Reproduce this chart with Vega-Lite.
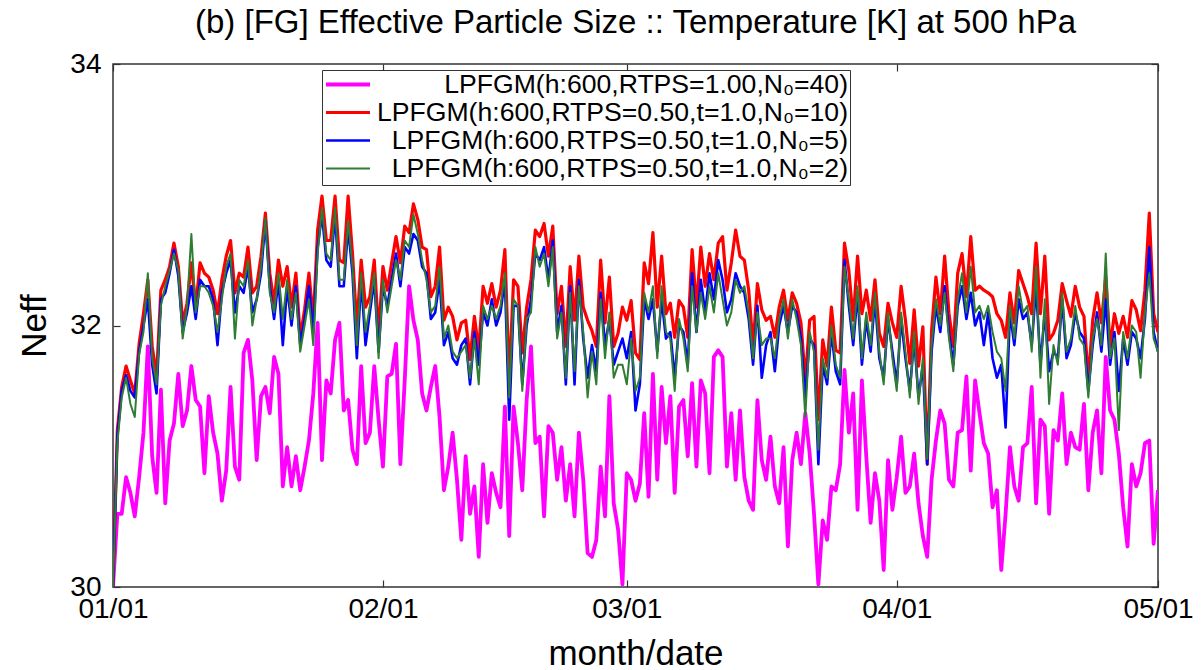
{
"$schema": "https://vega.github.io/schema/vega-lite/v6.json",
"width": 1045, "height": 523,
"autosize": {"type": "none"},
"padding": {"left": 113, "top": 64, "right": 43, "bottom": 83},
"background": "white",
"title": {"text": "(b) [FG] Effective Particle Size :: Temperature [K] at 500 hPa", "font": "Liberation Sans", "fontSize": 33, "fontWeight": "normal", "anchor": "middle", "offset": 10, "color": "#000"},
"config": {"view": {"stroke": "#333", "strokeWidth": 1.5}, "font": "Liberation Sans"},
"data": {"values": [
{"d":0,"m":30.0,"r":30.0,"b":30.0,"g":30.0},
{"d":0.5,"m":30.56,"r":31.2,"b":31.15,"g":31.1},
{"d":1,"m":30.56,"r":31.53,"b":31.5,"g":31.45},
{"d":1.5,"m":30.84,"r":31.69,"b":31.62,"g":31.6},
{"d":2,"m":30.72,"r":31.58,"b":31.5,"g":31.4},
{"d":2.5,"m":30.54,"r":31.48,"b":31.45,"g":31.3},
{"d":3,"m":30.84,"r":31.86,"b":31.8,"g":31.78},
{"d":3.5,"m":31.18,"r":32.09,"b":32.0,"g":31.95},
{"d":4,"m":31.84,"r":32.35,"b":32.2,"g":32.4},
{"d":4.5,"m":31.0,"r":31.84,"b":31.7,"g":31.75},
{"d":5,"m":30.72,"r":31.61,"b":31.48,"g":31.55},
{"d":5.5,"m":31.51,"r":32.27,"b":32.2,"g":32.15},
{"d":6,"m":30.64,"r":32.35,"b":32.25,"g":32.3},
{"d":6.5,"m":31.12,"r":32.45,"b":32.4,"g":32.42},
{"d":7,"m":31.25,"r":32.63,"b":32.58,"g":32.55},
{"d":7.5,"m":31.63,"r":32.45,"b":32.38,"g":32.42},
{"d":8,"m":31.23,"r":32.02,"b":31.95,"g":31.9},
{"d":8.5,"m":31.35,"r":32.17,"b":32.1,"g":32.15},
{"d":9,"m":31.69,"r":32.48,"b":32.3,"g":32.7},
{"d":9.5,"m":31.43,"r":32.14,"b":32.05,"g":32.1},
{"d":10,"m":31.38,"r":32.48,"b":32.35,"g":32.3},
{"d":10.5,"m":30.87,"r":32.4,"b":32.3,"g":32.3},
{"d":11,"m":31.46,"r":32.37,"b":32.3,"g":32.25},
{"d":11.5,"m":31.18,"r":32.27,"b":32.2,"g":32.15},
{"d":12,"m":31.02,"r":32.09,"b":31.85,"g":31.95},
{"d":12.5,"m":30.66,"r":32.35,"b":32.25,"g":32.2},
{"d":13,"m":30.89,"r":32.53,"b":32.4,"g":32.45},
{"d":13.5,"m":31.53,"r":32.65,"b":32.5,"g":32.55},
{"d":14,"m":30.92,"r":32.25,"b":32.1,"g":31.9},
{"d":14.5,"m":30.82,"r":32.4,"b":32.3,"g":32.35},
{"d":15,"m":31.79,"r":32.37,"b":32.25,"g":32.3},
{"d":15.5,"m":31.89,"r":32.6,"b":32.45,"g":32.5},
{"d":16,"m":31.58,"r":32.25,"b":32.1,"g":32.0},
{"d":16.5,"m":30.97,"r":32.3,"b":32.2,"g":32.2},
{"d":17,"m":31.46,"r":32.53,"b":32.4,"g":32.45},
{"d":17.5,"m":31.53,"r":32.86,"b":32.8,"g":32.82},
{"d":18,"m":31.33,"r":32.4,"b":32.3,"g":32.25},
{"d":18.5,"m":31.76,"r":32.17,"b":32.05,"g":32.1},
{"d":19,"m":31.63,"r":32.5,"b":32.35,"g":32.4},
{"d":19.5,"m":30.77,"r":32.3,"b":31.85,"g":32.05},
{"d":20,"m":31.07,"r":32.45,"b":32.3,"g":32.35},
{"d":20.5,"m":30.77,"r":32.14,"b":32.0,"g":32.05},
{"d":21,"m":31.0,"r":32.4,"b":32.3,"g":32.25},
{"d":21.5,"m":30.74,"r":31.91,"b":31.85,"g":31.8},
{"d":22,"m":30.92,"r":32.12,"b":32.05,"g":32.0},
{"d":22.5,"m":31.12,"r":32.4,"b":32.3,"g":32.2},
{"d":23,"m":31.48,"r":32.04,"b":31.95,"g":31.85},
{"d":23.5,"m":32.02,"r":32.73,"b":32.6,"g":32.55},
{"d":24,"m":30.97,"r":32.99,"b":32.85,"g":32.9},
{"d":24.5,"m":31.58,"r":32.65,"b":32.5,"g":32.55},
{"d":25,"m":31.48,"r":32.65,"b":32.45,"g":32.5},
{"d":25.5,"m":31.89,"r":32.99,"b":32.85,"g":32.9},
{"d":26,"m":32.02,"r":32.5,"b":32.3,"g":32.35},
{"d":26.5,"m":31.35,"r":32.48,"b":32.3,"g":32.35},
{"d":27,"m":31.43,"r":32.99,"b":32.75,"g":32.8},
{"d":27.5,"m":31.05,"r":32.55,"b":32.4,"g":32.45},
{"d":28,"m":30.94,"r":31.99,"b":31.75,"g":31.85},
{"d":28.5,"m":31.69,"r":32.5,"b":32.35,"g":32.4},
{"d":29,"m":31.1,"r":32.14,"b":31.85,"g":31.95},
{"d":29.5,"m":31.18,"r":32.22,"b":32.1,"g":32.15},
{"d":30,"m":31.69,"r":32.5,"b":32.35,"g":32.4},
{"d":30.5,"m":31.28,"r":31.94,"b":31.8,"g":31.75},
{"d":31,"m":30.92,"r":32.45,"b":32.3,"g":32.35},
{"d":31.5,"m":31.61,"r":32.27,"b":32.15,"g":32.1},
{"d":32,"m":31.63,"r":32.48,"b":32.35,"g":32.3},
{"d":32.5,"m":31.86,"r":32.68,"b":32.55,"g":32.5},
{"d":33,"m":30.94,"r":32.48,"b":32.3,"g":32.35},
{"d":33.5,"m":31.58,"r":32.76,"b":32.6,"g":32.65},
{"d":34,"m":32.3,"r":32.71,"b":32.55,"g":32.6},
{"d":34.5,"m":32.04,"r":32.93,"b":32.7,"g":32.85},
{"d":35,"m":31.89,"r":32.81,"b":32.65,"g":32.7},
{"d":35.5,"m":31.48,"r":32.6,"b":32.45,"g":32.5},
{"d":36,"m":31.35,"r":32.58,"b":32.4,"g":32.35},
{"d":36.5,"m":31.53,"r":32.22,"b":32.05,"g":32.1},
{"d":37,"m":31.69,"r":32.3,"b":32.1,"g":32.15},
{"d":37.5,"m":31.3,"r":32.6,"b":32.35,"g":32.45},
{"d":38,"m":30.74,"r":32.04,"b":31.85,"g":31.9},
{"d":38.5,"m":30.92,"r":32.14,"b":31.95,"g":32.0},
{"d":39,"m":31.18,"r":32.07,"b":31.75,"g":31.8},
{"d":39.5,"m":30.82,"r":31.89,"b":31.7,"g":31.75},
{"d":40,"m":30.36,"r":32.02,"b":31.85,"g":31.8},
{"d":40.5,"m":31.0,"r":32.04,"b":31.9,"g":31.85},
{"d":41,"m":30.56,"r":31.74,"b":31.55,"g":31.6},
{"d":41.5,"m":30.77,"r":32.07,"b":31.95,"g":31.9},
{"d":42,"m":30.23,"r":31.81,"b":31.7,"g":31.55},
{"d":42.5,"m":30.94,"r":32.3,"b":32.1,"g":32.15},
{"d":43,"m":30.49,"r":32.17,"b":32.0,"g":32.05},
{"d":43.5,"m":30.87,"r":32.32,"b":32.2,"g":32.15},
{"d":44,"m":30.72,"r":32.14,"b":32.0,"g":32.05},
{"d":44.5,"m":30.61,"r":32.27,"b":32.1,"g":32.15},
{"d":45,"m":31.38,"r":32.58,"b":32.35,"g":32.4},
{"d":45.5,"m":30.39,"r":31.58,"b":31.28,"g":31.45},
{"d":46,"m":31.38,"r":32.35,"b":32.15,"g":32.2},
{"d":46.5,"m":31.1,"r":32.3,"b":32.15,"g":32.15},
{"d":47,"m":30.74,"r":31.79,"b":31.55,"g":31.5},
{"d":47.5,"m":31.43,"r":32.14,"b":32.0,"g":32.05},
{"d":48,"m":31.84,"r":32.35,"b":32.2,"g":32.1},
{"d":48.5,"m":31.1,"r":32.73,"b":32.55,"g":32.6},
{"d":49,"m":31.15,"r":32.68,"b":32.5,"g":32.45},
{"d":49.5,"m":30.54,"r":32.78,"b":32.6,"g":32.55},
{"d":50,"m":31.23,"r":32.53,"b":32.35,"g":32.3},
{"d":50.5,"m":31.18,"r":32.76,"b":32.65,"g":32.6},
{"d":51,"m":30.82,"r":32.09,"b":31.95,"g":31.9},
{"d":51.5,"m":31.07,"r":32.3,"b":32.15,"g":32.1},
{"d":52,"m":30.66,"r":31.84,"b":31.55,"g":31.6},
{"d":52.5,"m":30.94,"r":32.45,"b":32.3,"g":32.25},
{"d":53,"m":30.54,"r":32.04,"b":31.55,"g":31.65},
{"d":53.5,"m":31.18,"r":32.53,"b":32.35,"g":32.3},
{"d":54,"m":30.82,"r":32.14,"b":31.9,"g":31.95},
{"d":54.5,"m":30.26,"r":32.04,"b":31.6,"g":31.45},
{"d":55,"m":30.23,"r":31.96,"b":31.85,"g":31.8},
{"d":55.5,"m":30.36,"r":31.84,"b":31.65,"g":31.55},
{"d":56,"m":30.92,"r":32.5,"b":32.25,"g":32.2},
{"d":56.5,"m":30.54,"r":32.02,"b":31.85,"g":31.75},
{"d":57,"m":31.46,"r":32.37,"b":32.05,"g":32.1},
{"d":57.5,"m":30.64,"r":31.84,"b":31.7,"g":31.6},
{"d":58,"m":30.44,"r":31.94,"b":31.8,"g":31.7},
{"d":58.5,"m":30.02,"r":32.14,"b":31.9,"g":31.7},
{"d":59,"m":30.87,"r":32.04,"b":31.75,"g":31.55},
{"d":59.5,"m":30.82,"r":32.19,"b":31.95,"g":31.9},
{"d":60,"m":30.66,"r":31.79,"b":31.35,"g":31.5},
{"d":60.5,"m":30.79,"r":31.74,"b":31.55,"g":31.6},
{"d":61,"m":31.33,"r":32.48,"b":32.2,"g":32.25},
{"d":61.5,"m":30.69,"r":32.32,"b":32.05,"g":32.1},
{"d":62,"m":31.63,"r":32.71,"b":32.2,"g":32.3},
{"d":62.5,"m":30.82,"r":32.14,"b":31.8,"g":31.75},
{"d":63,"m":31.53,"r":32.53,"b":32.2,"g":32.3},
{"d":63.5,"m":31.1,"r":32.09,"b":31.9,"g":31.95},
{"d":64,"m":31.46,"r":32.17,"b":31.95,"g":31.9},
{"d":64.5,"m":30.72,"r":31.91,"b":31.6,"g":31.5},
{"d":65,"m":31.38,"r":32.19,"b":32.0,"g":32.05},
{"d":65.5,"m":31.43,"r":32.14,"b":31.95,"g":31.9},
{"d":66,"m":31.0,"r":31.91,"b":31.7,"g":31.65},
{"d":66.5,"m":31.56,"r":32.58,"b":32.4,"g":32.3},
{"d":67,"m":30.92,"r":32.14,"b":31.95,"g":31.95},
{"d":67.5,"m":31.58,"r":32.6,"b":32.35,"g":32.25},
{"d":68,"m":31.48,"r":32.3,"b":32.1,"g":32.05},
{"d":68.5,"m":30.87,"r":32.55,"b":32.4,"g":32.3},
{"d":69,"m":31.76,"r":32.35,"b":32.2,"g":32.1},
{"d":69.5,"m":31.81,"r":32.63,"b":32.5,"g":32.4},
{"d":70,"m":31.76,"r":32.68,"b":32.35,"g":32.2},
{"d":70.5,"m":30.92,"r":32.27,"b":32.1,"g":32.0},
{"d":71,"m":31.33,"r":32.48,"b":32.2,"g":32.1},
{"d":71.5,"m":30.82,"r":32.73,"b":32.4,"g":32.35},
{"d":72,"m":31.35,"r":32.53,"b":32.3,"g":32.25},
{"d":72.5,"m":30.84,"r":32.5,"b":32.25,"g":32.3},
{"d":73,"m":30.66,"r":32.27,"b":32.05,"g":32.1},
{"d":73.5,"m":30.59,"r":31.84,"b":31.7,"g":31.75},
{"d":74,"m":31.43,"r":32.32,"b":32.15,"g":32.1},
{"d":74.5,"m":30.97,"r":32.12,"b":31.6,"g":31.85},
{"d":75,"m":30.82,"r":32.04,"b":31.85,"g":31.9},
{"d":75.5,"m":31.15,"r":32.07,"b":31.95,"g":31.9},
{"d":76,"m":30.77,"r":31.91,"b":31.65,"g":31.75},
{"d":76.5,"m":30.64,"r":32.14,"b":32.0,"g":32.05},
{"d":77,"m":31.07,"r":32.27,"b":32.15,"g":32.2},
{"d":77.5,"m":30.31,"r":32.04,"b":31.95,"g":31.9},
{"d":78,"m":30.97,"r":32.25,"b":32.15,"g":32.2},
{"d":78.5,"m":31.18,"r":32.17,"b":32.1,"g":32.05},
{"d":79,"m":30.94,"r":32.02,"b":31.9,"g":31.85},
{"d":79.5,"m":31.33,"r":31.58,"b":31.45,"g":31.3},
{"d":80,"m":31.02,"r":32.04,"b":31.9,"g":31.95},
{"d":80.5,"m":30.56,"r":32.07,"b":31.85,"g":31.8},
{"d":81,"m":30.02,"r":31.28,"b":30.94,"g":31.05},
{"d":81.5,"m":30.51,"r":31.89,"b":31.7,"g":31.75},
{"d":82,"m":30.36,"r":31.69,"b":31.55,"g":31.6},
{"d":82.5,"m":30.77,"r":32.14,"b":31.95,"g":32.0},
{"d":83,"m":30.74,"r":31.81,"b":31.65,"g":31.7},
{"d":83.5,"m":30.94,"r":31.79,"b":31.55,"g":31.6},
{"d":84,"m":31.66,"r":32.63,"b":32.5,"g":32.45},
{"d":84.5,"m":31.18,"r":32.42,"b":32.15,"g":32.2},
{"d":85,"m":31.48,"r":32.04,"b":31.85,"g":31.9},
{"d":85.5,"m":30.59,"r":32.53,"b":32.25,"g":32.3},
{"d":86,"m":31.58,"r":32.09,"b":31.7,"g":31.75},
{"d":86.5,"m":31.0,"r":32.27,"b":32.05,"g":32.1},
{"d":87,"m":30.49,"r":32.04,"b":31.8,"g":31.85},
{"d":87.5,"m":30.87,"r":32.35,"b":32.2,"g":32.25},
{"d":88,"m":30.66,"r":31.94,"b":31.75,"g":31.8},
{"d":88.5,"m":30.13,"r":31.84,"b":31.6,"g":31.55},
{"d":89,"m":30.97,"r":32.17,"b":32.05,"g":32.1},
{"d":89.5,"m":30.59,"r":32.02,"b":31.8,"g":31.75},
{"d":90,"m":30.84,"r":31.91,"b":31.55,"g":31.5},
{"d":90.5,"m":31.15,"r":32.3,"b":32.05,"g":32.1},
{"d":91,"m":30.72,"r":32.04,"b":31.75,"g":31.8},
{"d":91.5,"m":30.77,"r":31.71,"b":31.5,"g":31.45},
{"d":92,"m":31.02,"r":32.12,"b":31.9,"g":31.95},
{"d":92.5,"m":30.64,"r":31.69,"b":31.45,"g":31.4},
{"d":93,"m":30.39,"r":31.99,"b":31.7,"g":31.75},
{"d":93.5,"m":30.23,"r":30.94,"b":30.94,"g":30.98},
{"d":94,"m":30.82,"r":31.96,"b":31.8,"g":31.85},
{"d":94.5,"m":31.12,"r":32.37,"b":32.15,"g":32.2},
{"d":95,"m":31.35,"r":32.09,"b":31.95,"g":32.0},
{"d":95.5,"m":31.25,"r":32.53,"b":32.3,"g":32.25},
{"d":96,"m":30.82,"r":32.09,"b":31.95,"g":31.9},
{"d":96.5,"m":30.77,"r":31.84,"b":31.7,"g":31.65},
{"d":97,"m":31.18,"r":32.4,"b":32.15,"g":32.2},
{"d":97.5,"m":31.2,"r":32.55,"b":32.3,"g":32.4},
{"d":98,"m":31.61,"r":32.22,"b":32.05,"g":32.1},
{"d":98.5,"m":30.89,"r":32.68,"b":32.25,"g":32.45},
{"d":99,"m":31.58,"r":32.27,"b":32.0,"g":32.1},
{"d":99.5,"m":31.33,"r":32.3,"b":32.1,"g":32.15},
{"d":100,"m":31.1,"r":32.27,"b":31.85,"g":32.05},
{"d":100.5,"m":31.02,"r":32.25,"b":32.1,"g":32.15},
{"d":101,"m":30.61,"r":32.22,"b":31.75,"g":31.95},
{"d":101.5,"m":30.74,"r":32.09,"b":31.6,"g":31.8},
{"d":102,"m":30.13,"r":32.04,"b":31.7,"g":31.75},
{"d":102.5,"m":30.56,"r":31.91,"b":31.22,"g":31.5},
{"d":103,"m":31.07,"r":32.25,"b":32.1,"g":32.15},
{"d":103.5,"m":30.77,"r":32.02,"b":31.85,"g":31.9},
{"d":104,"m":30.66,"r":32.42,"b":32.2,"g":32.3},
{"d":104.5,"m":31.07,"r":32.32,"b":32.05,"g":32.1},
{"d":105,"m":31.1,"r":32.22,"b":32.1,"g":32.15},
{"d":105.5,"m":31.53,"r":32.09,"b":31.85,"g":31.8},
{"d":106,"m":30.64,"r":32.63,"b":32.3,"g":32.45},
{"d":106.5,"m":31.28,"r":32.09,"b":31.7,"g":31.6},
{"d":107,"m":31.23,"r":32.53,"b":32.1,"g":32.2},
{"d":107.5,"m":30.56,"r":31.89,"b":31.65,"g":31.4},
{"d":108,"m":31.2,"r":31.94,"b":31.8,"g":31.85},
{"d":108.5,"m":31.12,"r":32.04,"b":31.75,"g":31.7},
{"d":109,"m":31.48,"r":32.32,"b":32.2,"g":32.25},
{"d":109.5,"m":30.94,"r":32.19,"b":31.75,"g":31.8},
{"d":110,"m":31.18,"r":32.07,"b":31.85,"g":31.9},
{"d":110.5,"m":31.07,"r":32.3,"b":32.1,"g":32.15},
{"d":111,"m":31.05,"r":32.14,"b":31.95,"g":31.9},
{"d":111.5,"m":31.4,"r":32.07,"b":31.9,"g":31.85},
{"d":112,"m":30.74,"r":31.58,"b":31.5,"g":31.45},
{"d":112.5,"m":31.18,"r":32.04,"b":31.85,"g":31.9},
{"d":113,"m":31.35,"r":32.25,"b":32.1,"g":32.05},
{"d":113.5,"m":30.87,"r":32.02,"b":31.8,"g":31.85},
{"d":114,"m":31.76,"r":32.37,"b":32.2,"g":32.55},
{"d":114.5,"m":31.35,"r":31.84,"b":31.7,"g":31.75},
{"d":115,"m":31.28,"r":32.09,"b":31.95,"g":31.9},
{"d":115.5,"m":31.02,"r":31.94,"b":31.5,"g":31.2},
{"d":116,"m":30.61,"r":32.07,"b":31.9,"g":31.95},
{"d":116.5,"m":30.31,"r":31.91,"b":31.7,"g":31.75},
{"d":117,"m":30.94,"r":32.19,"b":31.95,"g":32.0},
{"d":117.5,"m":30.77,"r":32.12,"b":31.9,"g":31.95},
{"d":118,"m":30.87,"r":31.96,"b":31.75,"g":31.6},
{"d":118.5,"m":31.1,"r":32.27,"b":32.05,"g":32.1},
{"d":119,"m":31.12,"r":32.86,"b":32.6,"g":32.4},
{"d":119.5,"m":30.33,"r":32.09,"b":31.95,"g":31.9},
{"d":120,"m":30.74,"r":31.95,"b":31.8,"g":31.8}
]},
"transform": [{"fold": ["m", "r", "b", "g"], "as": ["s", "v"]}],
"layer": [
{
"mark": {"type": "line", "strokeJoin": "round", "clip": true},
"encoding": {
"x": {"field": "d", "type": "quantitative", "scale": {"domain": [0, 120], "nice": false, "zero": false},
 "axis": {"values": [0, 31, 59, 90, 120], "labelExpr": "datum.value==0?'01/01':datum.value==31?'02/01':datum.value==59?'03/01':datum.value==90?'04/01':'05/01'", "grid": false, "domain": false, "tickSize": -7, "tickColor": "#333", "tickWidth": 1.2, "labelFontSize": 28, "labelColor": "#000", "labelPadding": 15, "labelFlush": false, "labelOverlap": false, "title": "month/date", "titleFontSize": 35, "titleFontWeight": "normal", "titleColor": "#000", "titlePadding": 13}},
"y": {"field": "v", "type": "quantitative", "scale": {"domain": [30, 34], "nice": false, "zero": false},
 "axis": {"values": [30, 32, 34], "grid": false, "domain": false, "tickSize": -7, "tickColor": "#333", "tickWidth": 1.2, "labelFontSize": 28, "labelColor": "#000", "labelPadding": 19, "labelFlush": false, "labelOverlap": false, "title": "Neff", "titleFontSize": 35, "titleFontWeight": "normal", "titleColor": "#000", "titlePadding": 17}},
"color": {"field": "s", "type": "nominal", "scale": {"domain": ["m", "r", "b", "g"], "range": ["#ff00ff", "#ff0000", "#0000ff", "#2e7d32"]},
 "legend": {"orient": "none", "legendX": 209, "legendY": 6, "title": null, "symbolType": "stroke", "symbolSize": 1936, "symbolStrokeWidth": 2.5, "clipHeight": 25, "labelAlign": "right", "labelOffset": 476, "symbolOffset": 0, "labelFontSize": 26.6, "labelColor": "#000", "labelLimit": 0, "strokeColor": "#333", "fillColor": "white", "padding": 2, "rowPadding": 0,
  "labelExpr": "datum.value=='m'?'LPFGM(h:600,RTPS=1.00,N₀=40)':datum.value=='r'?'LPFGM(h:600,RTPS=0.50,t=1.0,N₀=10)':datum.value=='b'?'LPFGM(h:600,RTPS=0.50,t=1.0,N₀=5)':'LPFGM(h:600,RTPS=0.50,t=1.0,N₀=2)'"}},
"strokeWidth": {"field": "s", "type": "nominal", "scale": {"domain": ["m", "r", "b", "g"], "range": [3.8, 2, 2, 1.3]}, "legend": null}
}
},
{
"mark": {"type": "line", "opacity": 0},
"encoding": {
"x": {"field": "d", "type": "quantitative", "axis": {"orient": "top", "values": [0, 31, 59, 90, 120], "labels": false, "grid": false, "domain": false, "tickSize": -7, "tickColor": "#333", "tickWidth": 1.2, "title": null}},
"y": {"field": "v", "type": "quantitative", "axis": {"orient": "right", "values": [30, 32, 34], "labels": false, "grid": false, "domain": false, "tickSize": -7, "tickColor": "#333", "tickWidth": 1.2, "title": null}},
"detail": {"field": "s", "type": "nominal"}
}
}
],
"resolve": {"axis": {"x": "independent", "y": "independent"}}
}
